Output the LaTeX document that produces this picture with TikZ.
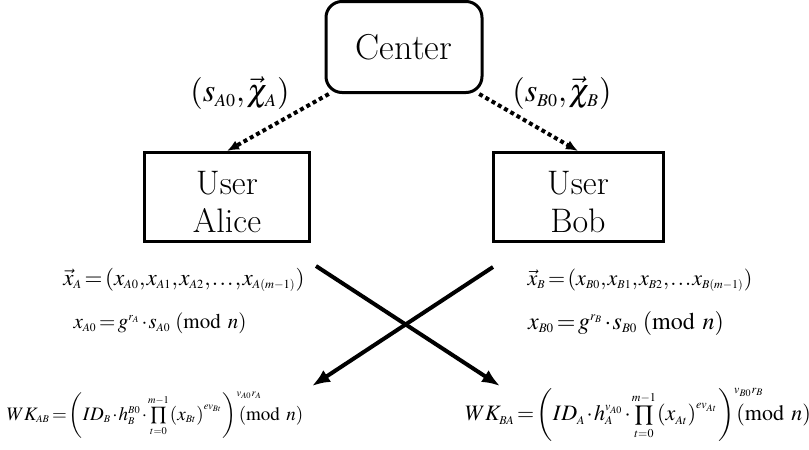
\documentclass[tikz,border=0pt]{standalone}
\usepackage{amssymb}
\usepackage{amsfonts}
\usepackage{amsmath}
\usepackage{mathptmx}
\usepackage{tikz}
\usetikzlibrary{shapes,arrows.meta}
% small indices, as in the formulas
\DeclareMathSizes{9.5}{9.5}{5.2}{4.2}
\DeclareMathSizes{10.5}{10.5}{5.8}{4.6}
\DeclareMathSizes{11}{11}{6}{5}
\DeclareMathSizes{11.5}{11.5}{6.2}{5}
\DeclareMathSizes{12}{12}{6.5}{5}
\DeclareMathSizes{16}{16}{9}{7}
\newcommand{\tightmath}{\thinmuskip=1mu\medmuskip=1mu\thickmuskip=2mu}
\newcommand{\lapsup}[1]{^{\rlap{$\scriptstyle #1$}}}

\begin{document}
\begin{tikzpicture}[x=0.5pt,y=-0.5pt,
  party/.style={rectangle,draw=black,line width=1.5pt,align=center,font=\fontsize{17}{19}\selectfont},
  eqn/.style={inner sep=0pt,font=\fontsize{12}{14}\selectfont\tightmath},
  keyflow/.style={line width=2pt,dash pattern=on 2pt off 1.6pt,-{Latex[length=6pt,width=5pt]}},
  swap/.style={line width=2pt,-{Latex[length=9pt,width=7pt]}}]
\useasboundingbox (0,0) rectangle (809,450);
% Parties
\node at (404,47) [party,rounded corners=8pt,minimum width=78pt,minimum height=45.5pt,font=\fontsize{18}{20}\selectfont] (Center) {Center};
\node at (227,197) [party,minimum width=82.5pt,minimum height=44.5pt] (Alice) {\rule{0pt}{17pt}User\\Alice};
\node at (578,197) [party,minimum width=85pt,minimum height=44.5pt] (Bob) {\rule{0pt}{17pt}User\\Bob};
% Key shares
\node at (240,93) [eqn,font=\fontsize{16}{18}\selectfont\tightmath] (ShareA) {$(s_{A0},\vec{\chi}_A)$};
\node at (562,93) [eqn,font=\fontsize{16}{18}\selectfont\tightmath] (ShareB) {$(s_{B0},\vec{\chi}_B)$};
% Public values
\node at (184,280) [eqn,font=\fontsize{11.5}{14}\selectfont\tightmath] (VecA) {$\vec{x}_A=\left(x_{A0},x_{A1},x_{A2},\ldots,x_{A(m-1)}\right)$};
\node at (160,323) [eqn,font=\fontsize{10.5}{13}\selectfont\tightmath] (PubA) {$x_{A0}=g^{r_A}\cdot s_{A0}\;\;(\mathrm{mod}\ n)$};
\node at (640,280) [eqn,font=\fontsize{11}{13}\selectfont\tightmath] (VecB) {$\vec{x}_B=\left(x_{B0},x_{B1},x_{B2},\ldots x_{B(m-1)}\right)$};
\node at (626,323) [eqn] (PubB) {$x_{B0}=g^{r_B}\cdot s_{B0}\;\;(\mathrm{mod}\ n)$};
% Shared keys
\node at (155,415) [eqn,font=\fontsize{9.5}{11}\selectfont\tightmath] (KeyAB) {$WK_{AB}=\left(ID_B\cdot h_B^{B0}\cdot\prod\limits_{t=0}^{m-1}\left(x_{Bt}\right)^{ev_{Bt}}\right)\lapsup{v_{A0}r_A}(\mathrm{mod}\ n)$};
\node at (638,415) [eqn,font=\fontsize{11}{13}\selectfont\tightmath] (KeyBA) {$WK_{BA}=\left(ID_A\cdot h_A^{v_{A0}}\cdot\prod\limits_{t=0}^{m-1}\left(x_{At}\right)^{ev_{At}}\right)\lapsup{v_{B0}r_B}(\mathrm{mod}\ n)$};
% Exchange end points
\coordinate (FromA) at (316,266);
\coordinate (ToBA) at (500,386);
\coordinate (FromB) at (493,267);
\coordinate (ToAB) at (312,386);
% Connections
\draw [keyflow] (Center.212) -- (Alice.north);
\draw [keyflow] (Center.328) -- (Bob.north);
\draw [swap] (FromA) -- (ToBA);
\draw [swap] (FromB) -- (ToAB);
\end{tikzpicture}
\end{document}
